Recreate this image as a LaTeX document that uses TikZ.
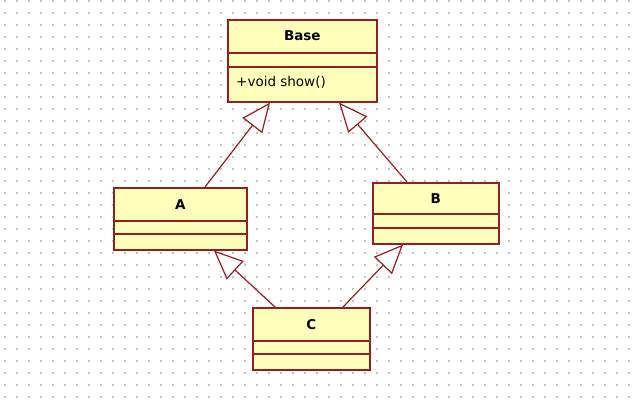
\documentclass[tikz,border=0pt]{standalone}
\usepackage{fontspec}
\setmainfont{DejaVu Sans}
\usetikzlibrary{arrows.meta,calc}
\definecolor{umlborder}{RGB}{150,30,35}
\definecolor{umlfill}{RGB}{255,255,188}
\definecolor{dotgray}{RGB}{195,195,195}
\begin{document}
\begin{tikzpicture}[x=1pt,y=-1pt,
 classbox/.style={draw=umlborder, fill=umlfill, line width=1.6pt, rectangle, inner sep=0pt, anchor=north west},
 divider/.style={draw=umlborder, line width=1.5pt},
 classname/.style={font=\fontsize{13.5}{16}\selectfont\bfseries, anchor=base, inner sep=0pt},
 member/.style={font=\fontsize{13.5}{16}\selectfont, anchor=base west, inner sep=0pt},
 inherit/.style={draw=umlborder, line width=1.2pt, -{Triangle[open, length=29pt, width=25pt, fill=white]}},
]
\useasboundingbox (0,0) rectangle (635,407);
\fill[white] (0,0) rectangle (635,407);
\foreach \i in {0,...,52} \foreach \j in {0,...,33} \fill[dotgray] (5+12*\i-0.8, 1+12*\j-0.8) rectangle ++(1.6,1.6);

% Base
\node[classbox, minimum width=149pt, minimum height=82pt] (base) at (227,19) {};
\draw[divider] ($(base.north west)+(0,34)$) -- ($(base.north east)+(0,34)$);
\draw[divider] ($(base.north west)+(0,48)$) -- ($(base.north east)+(0,48)$);
\node[classname] (baselbl) at ($(base.north)+(0,21.5)$) {Base};
\node[member] (show) at ($(base.north west)+(9,67)$) {+void show()};

% A
\node[classbox, minimum width=133pt, minimum height=62pt] (A) at (113,187) {};
\draw[divider] ($(A.north west)+(0,34)$) -- ($(A.north east)+(0,34)$);
\draw[divider] ($(A.north west)+(0,47)$) -- ($(A.north east)+(0,47)$);
\node[classname] (Albl) at ($(A.north)+(0,22)$) {A};

% B
\node[classbox, minimum width=126pt, minimum height=61pt] (B) at (372,182) {};
\draw[divider] ($(B.north west)+(0,32)$) -- ($(B.north east)+(0,32)$);
\draw[divider] ($(B.north west)+(0,46)$) -- ($(B.north east)+(0,46)$);
\node[classname] (Blbl) at ($(B.north)+(0,21)$) {B};

% C
\node[classbox, minimum width=117pt, minimum height=62pt] (C) at (252,307) {};
\draw[divider] ($(C.north west)+(0,34)$) -- ($(C.north east)+(0,34)$);
\draw[divider] ($(C.north west)+(0,47)$) -- ($(C.north east)+(0,47)$);
\node[classname] (Clbl) at ($(C.north)+(0,22)$) {C};

% inheritance
\draw[inherit] ($(A.north west)+(92,0)$) -- ($(base.south west)+(43,0)$);
\draw[inherit] ($(B.north west)+(35,0)$) -- ($(base.south west)+(112,0)$);
\draw[inherit] ($(C.north west)+(23,0)$) -- ($(A.south west)+(101,0)$);
\draw[inherit] ($(C.north west)+(91,0)$) -- ($(B.south west)+(31,0)$);
\end{tikzpicture}
\end{document}
